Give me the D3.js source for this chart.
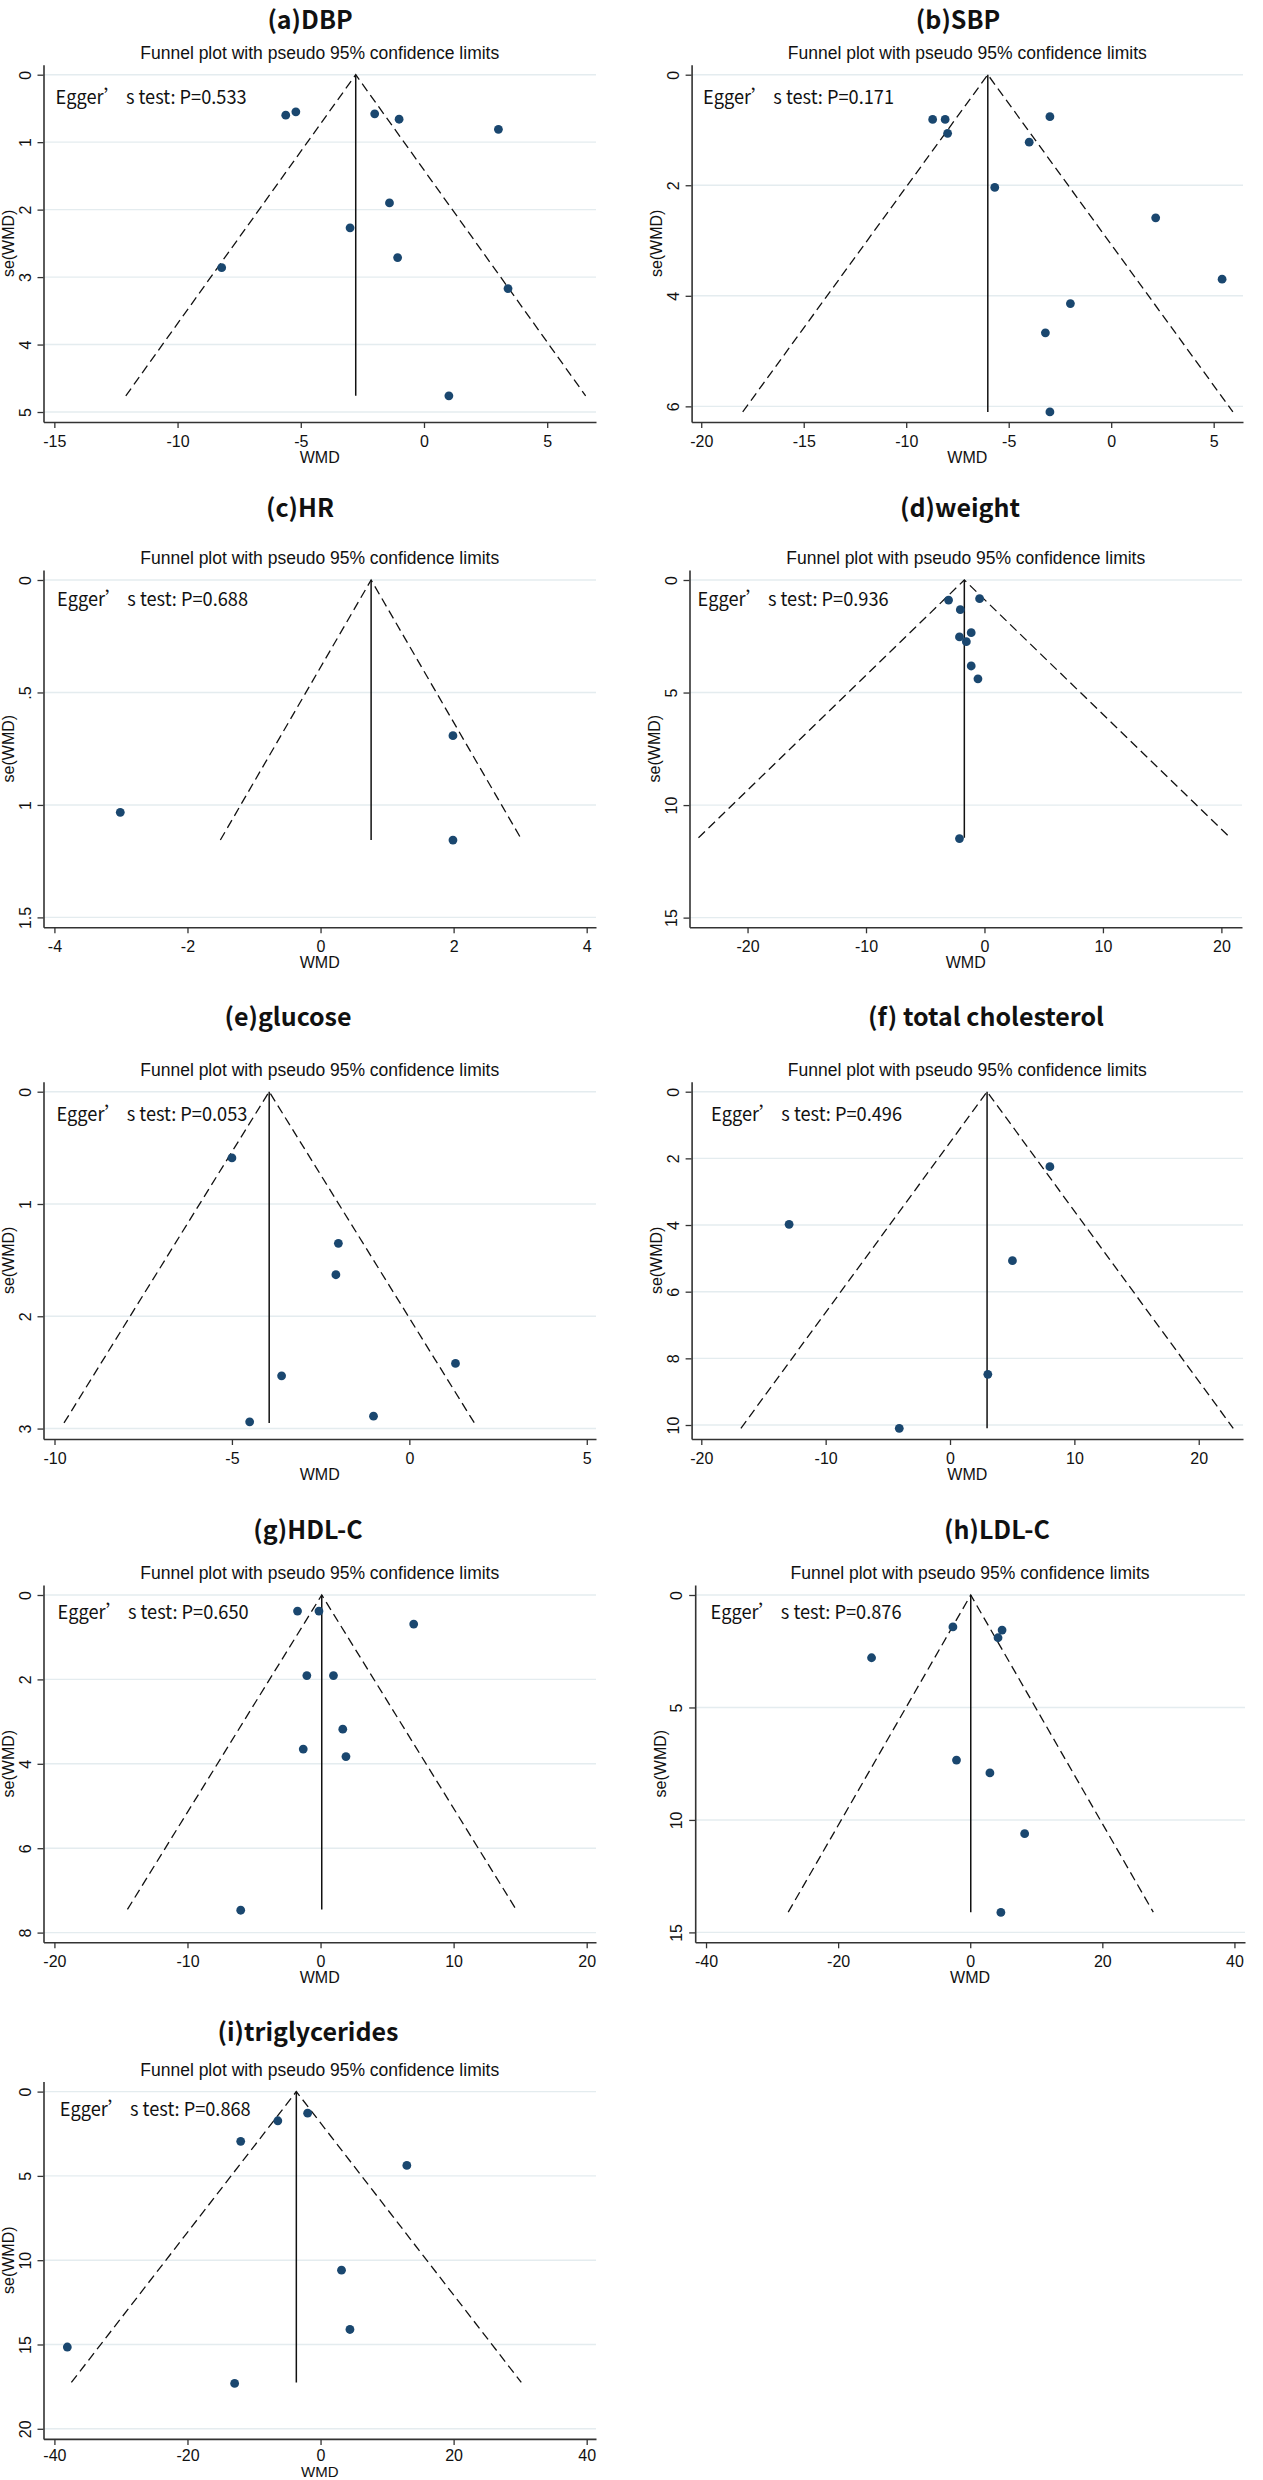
<!DOCTYPE html>
<html><head><meta charset="utf-8">
<script src="https://cdn.jsdelivr.net/npm/d3@7"></script>
<style>body{margin:0;background:#fff}</style>
</head><body>
<script>
// ---------------- DATA ----------------
const titles = ["(a)DBP","(b)SBP","(c)HR","(d)weight","(e)glucose","(f) total cholesterol","(g)HDL-C","(h)LDL-C","(i)triglycerides"];
const eggerP = ["0.533","0.171","0.688","0.936","0.053","0.496","0.650","0.876","0.868"];
const subtitle = "Funnel plot with pseudo 95% confidence limits";
const xLabel = "WMD";
const yLabel = "se(WMD)";

const wmdA = [-5.61,-5.20,-2.00,-1.01,3.02,-1.40,-3.00,-1.07,-8.21,3.41,1.01];
const seA  = [0.60,0.55,0.58,0.66,0.81,1.90,2.27,2.71,2.86,3.17,4.76];
const wmdB = [-8.71,-8.10,-7.98,-2.99,-4.00,-5.68,2.17,5.41,-1.99,-3.21,-2.99];
const seB  = [0.81,0.81,1.06,0.76,1.22,2.04,2.59,3.70,4.14,4.67,6.10];
const wmdC = [-3.01,1.99,1.99];
const seC  = [1.033,0.692,1.156];
const wmdD = [-3.03,-0.41,-2.04,-1.12,-2.11,-1.53,-1.12,-0.55,-2.11];
const seD  = [0.89,0.83,1.32,2.34,2.53,2.74,3.82,4.39,11.49];
const wmdE = [-5.00,-2.00,-2.07,1.30,-3.60,-1.01,-4.50];
const seE  = [0.59,1.35,1.63,2.42,2.53,2.89,2.94];
const wmdF = [8.03,-12.94,5.02,3.04,-4.08];
const seF  = [2.25,3.98,5.07,8.48,10.1];
const wmdG = [-1.73,-0.12,7.00,-1.03,0.97,1.67,-1.30,1.91,-6.00];
const seG  = [0.38,0.38,0.69,1.91,1.91,3.18,3.65,3.83,7.47];
const wmdH = [-2.62,4.82,4.21,-14.94,-2.08,2.98,8.24,4.64];
const seH  = [1.42,1.56,1.90,2.79,7.34,7.91,10.61,14.11];
const wmdI = [-1.94,-6.42,-12.0,12.97,3.15,4.42,-38.06,-12.91];
const seI  = [1.28,1.73,2.95,4.38,10.59,14.11,15.15,17.31];

const wmds = [wmdA,wmdB,wmdC,wmdD,wmdE,wmdF,wmdG,wmdH,wmdI];
const ses  = [seA,seB,seC,seD,seE,seF,seG,seH,seI];

// pooled estimate and max se (apex / base of the funnel)
const pooled = [-2.77,-6.02,0.76,-1.70,-3.95,2.98,0.09,0.08,-3.64];
const seMax  = [4.76,6.10,1.156,11.45,2.95,10.1,7.45,14.1,17.25];

const xTicks = [[-15,-10,-5,0,5],[-20,-15,-10,-5,0,5],[-4,-2,0,2,4],[-20,-10,0,10,20],[-10,-5,0,5],
                [-20,-10,0,10,20],[-20,-10,0,10,20],[-40,-20,0,20,40],[-40,-20,0,20,40]];
const yTicks = [[0,1,2,3,4,5],[0,2,4,6],[0,0.5,1,1.5],[0,5,10,15],[0,1,2,3],[0,2,4,6,8,10],[0,2,4,6,8],[0,5,10,15],[0,5,10,15,20]];
const xExtents = [[-15.44,6.98],[-20.47,6.43],[-4.164,4.14],[-24.9,21.74],[-10.31,5.26],[-20.78,23.56],[-20.82,20.70],[-41.64,41.6],[-41.64,41.4]];
const yMaxes = [5.148,6.283,1.544,15.43,3.093,10.42,8.23,15.44,20.6];

// ---------------- LAYOUT ----------------
const W = 1263, H = 2480;
const rowY0 = [74.7,580,1091.7,1595,2091.6];
const titleBase = [29,516.5,1026,1539,2041];
const eggerDy = [22,19,22.3,16.7,17.3];
const PLOT_H = 347.3;
const axisXs = [43.5,691.6,43.5,689.5,43.5,691.6,43.5,695.2,43.5];
const plotRights = [596,1243,596,1242,596,1243,596,1245,596];
const titleXs = [310,958,300,960,288,986,308,997,308];
const eggerXs = [55.6,703,57,697.6,56.4,711,57.6,710.5,59.7];

const axisFont = "'Liberation Sans', Arial, sans-serif";
const cjkFont = "'Noto Sans CJK SC', 'Noto Sans', sans-serif";
const axisColor = "#333";
const dotColor = "#1a476f";
const gridColor = "#e4ecef";

const svg = d3.select("body").append("svg").attr("width",W).attr("height",H)
  .attr("xmlns","http://www.w3.org/2000/svg");
svg.append("rect").attr("width",W).attr("height",H).attr("fill","#fff");

const fmt = d => String(d).replace(/^0\./,".");

titles.forEach((t,i)=>{
  const row = Math.floor(i/2);
  const lastRow = row === 4;
  const y0 = rowY0[row];
  const yBottom = y0 + PLOT_H;
  const left = axisXs[i], right = plotRights[i];
  const x = d3.scaleLinear().domain(xExtents[i]).range([left,right]);
  const y = d3.scaleLinear().domain([0,yMaxes[i]]).range([y0,yBottom]);
  const yTopVal = y.invert(y0-10);
  const yAx = d3.scaleLinear().domain([yTopVal,yMaxes[i]]).range([y0-10,yBottom]);
  const g = svg.append("g");

  // gridlines
  g.append("g").selectAll("line").data(yTicks[i]).join("line")
    .attr("x1",left).attr("x2",right).attr("y1",d=>y(d)).attr("y2",d=>y(d))
    .attr("stroke",gridColor).attr("stroke-width",1.4);

  // funnel
  const th = pooled[i], sm = seMax[i];
  g.append("path")
    .attr("d", d3.line()([[x(th-1.96*sm),y(sm)],[x(th),y(0)],[x(th+1.96*sm),y(sm)]]))
    .attr("fill","none").attr("stroke","#111").attr("stroke-width",1.3).attr("stroke-dasharray","9,5");
  g.append("line").attr("x1",x(th)).attr("x2",x(th)).attr("y1",y(0)).attr("y2",y(sm))
    .attr("stroke","#111").attr("stroke-width",1.5);

  // points
  g.append("g").selectAll("circle").data(d3.zip(wmds[i],ses[i])).join("circle")
    .attr("cx",d=>x(d[0])).attr("cy",d=>y(d[1])).attr("r",4.4).attr("fill",dotColor);

  // y axis
  const ya = g.append("g").attr("transform",`translate(${left},0)`)
    .call(d3.axisLeft(yAx).tickValues(yTicks[i]).tickSize(6).tickSizeOuter(0).tickFormat(fmt));
  ya.attr("font-family",axisFont).attr("font-size",16);
  ya.select(".domain").attr("stroke",axisColor).attr("stroke-width",1.6);
  ya.selectAll(".tick line").attr("stroke",axisColor).attr("stroke-width",1.3);
  ya.selectAll(".tick text").attr("x",null).attr("dy",null).attr("y",null)
    .attr("text-anchor","middle").attr("fill","#111")
    .attr("transform","translate(-13,0) rotate(-90)");

  // x axis
  const xa = g.append("g").attr("transform",`translate(0,${yBottom})`)
    .call(d3.axisBottom(x).tickValues(xTicks[i]).tickSize(6).tickSizeOuter(0)
      .tickPadding(lastRow ? 4.5 : 7.5).tickFormat(d=>String(d)));
  xa.attr("font-family",axisFont).attr("font-size",16);
  xa.select(".domain").attr("stroke",axisColor).attr("stroke-width",1.6);
  xa.selectAll(".tick line").attr("stroke",axisColor).attr("stroke-width",1.3);
  xa.selectAll(".tick text").attr("fill","#111");

  // axis titles
  g.append("text").attr("x",(left+right)/2).attr("y",lastRow ? H-3.5 : yBottom+41)
    .attr("text-anchor","middle").attr("font-family",axisFont).attr("font-size",lastRow ? 15 : 16)
    .attr("fill","#111").text(xLabel);
  g.append("text").attr("transform",`translate(${left-29.4},${(y0-10+yBottom)/2}) rotate(-90)`)
    .attr("text-anchor","middle").attr("font-family",axisFont).attr("font-size",16).attr("fill","#111").text(yLabel);

  // subtitle
  g.append("text").attr("x",(left+right)/2).attr("y",y0-16)
    .attr("text-anchor","middle").attr("font-family",axisFont).attr("font-size",17.5).attr("fill","#111").text(subtitle);

  // panel title
  g.append("text").attr("x",titleXs[i]).attr("y",titleBase[row])
    .attr("text-anchor","middle").attr("font-family",cjkFont).attr("font-weight","bold")
    .attr("font-size",25).attr("fill","#111").text(t);

  // Egger text
  g.append("text").attr("x",eggerXs[i]).attr("y",y0+eggerDy[row]+6.8)
    .attr("font-family",cjkFont).attr("font-size",19).attr("fill","#111")
    .attr("textLength",191).attr("lengthAdjust","spacingAndGlyphs")
    .text("Egger\u2019 s test: P=" + eggerP[i]);
});
</script>
</body></html>
